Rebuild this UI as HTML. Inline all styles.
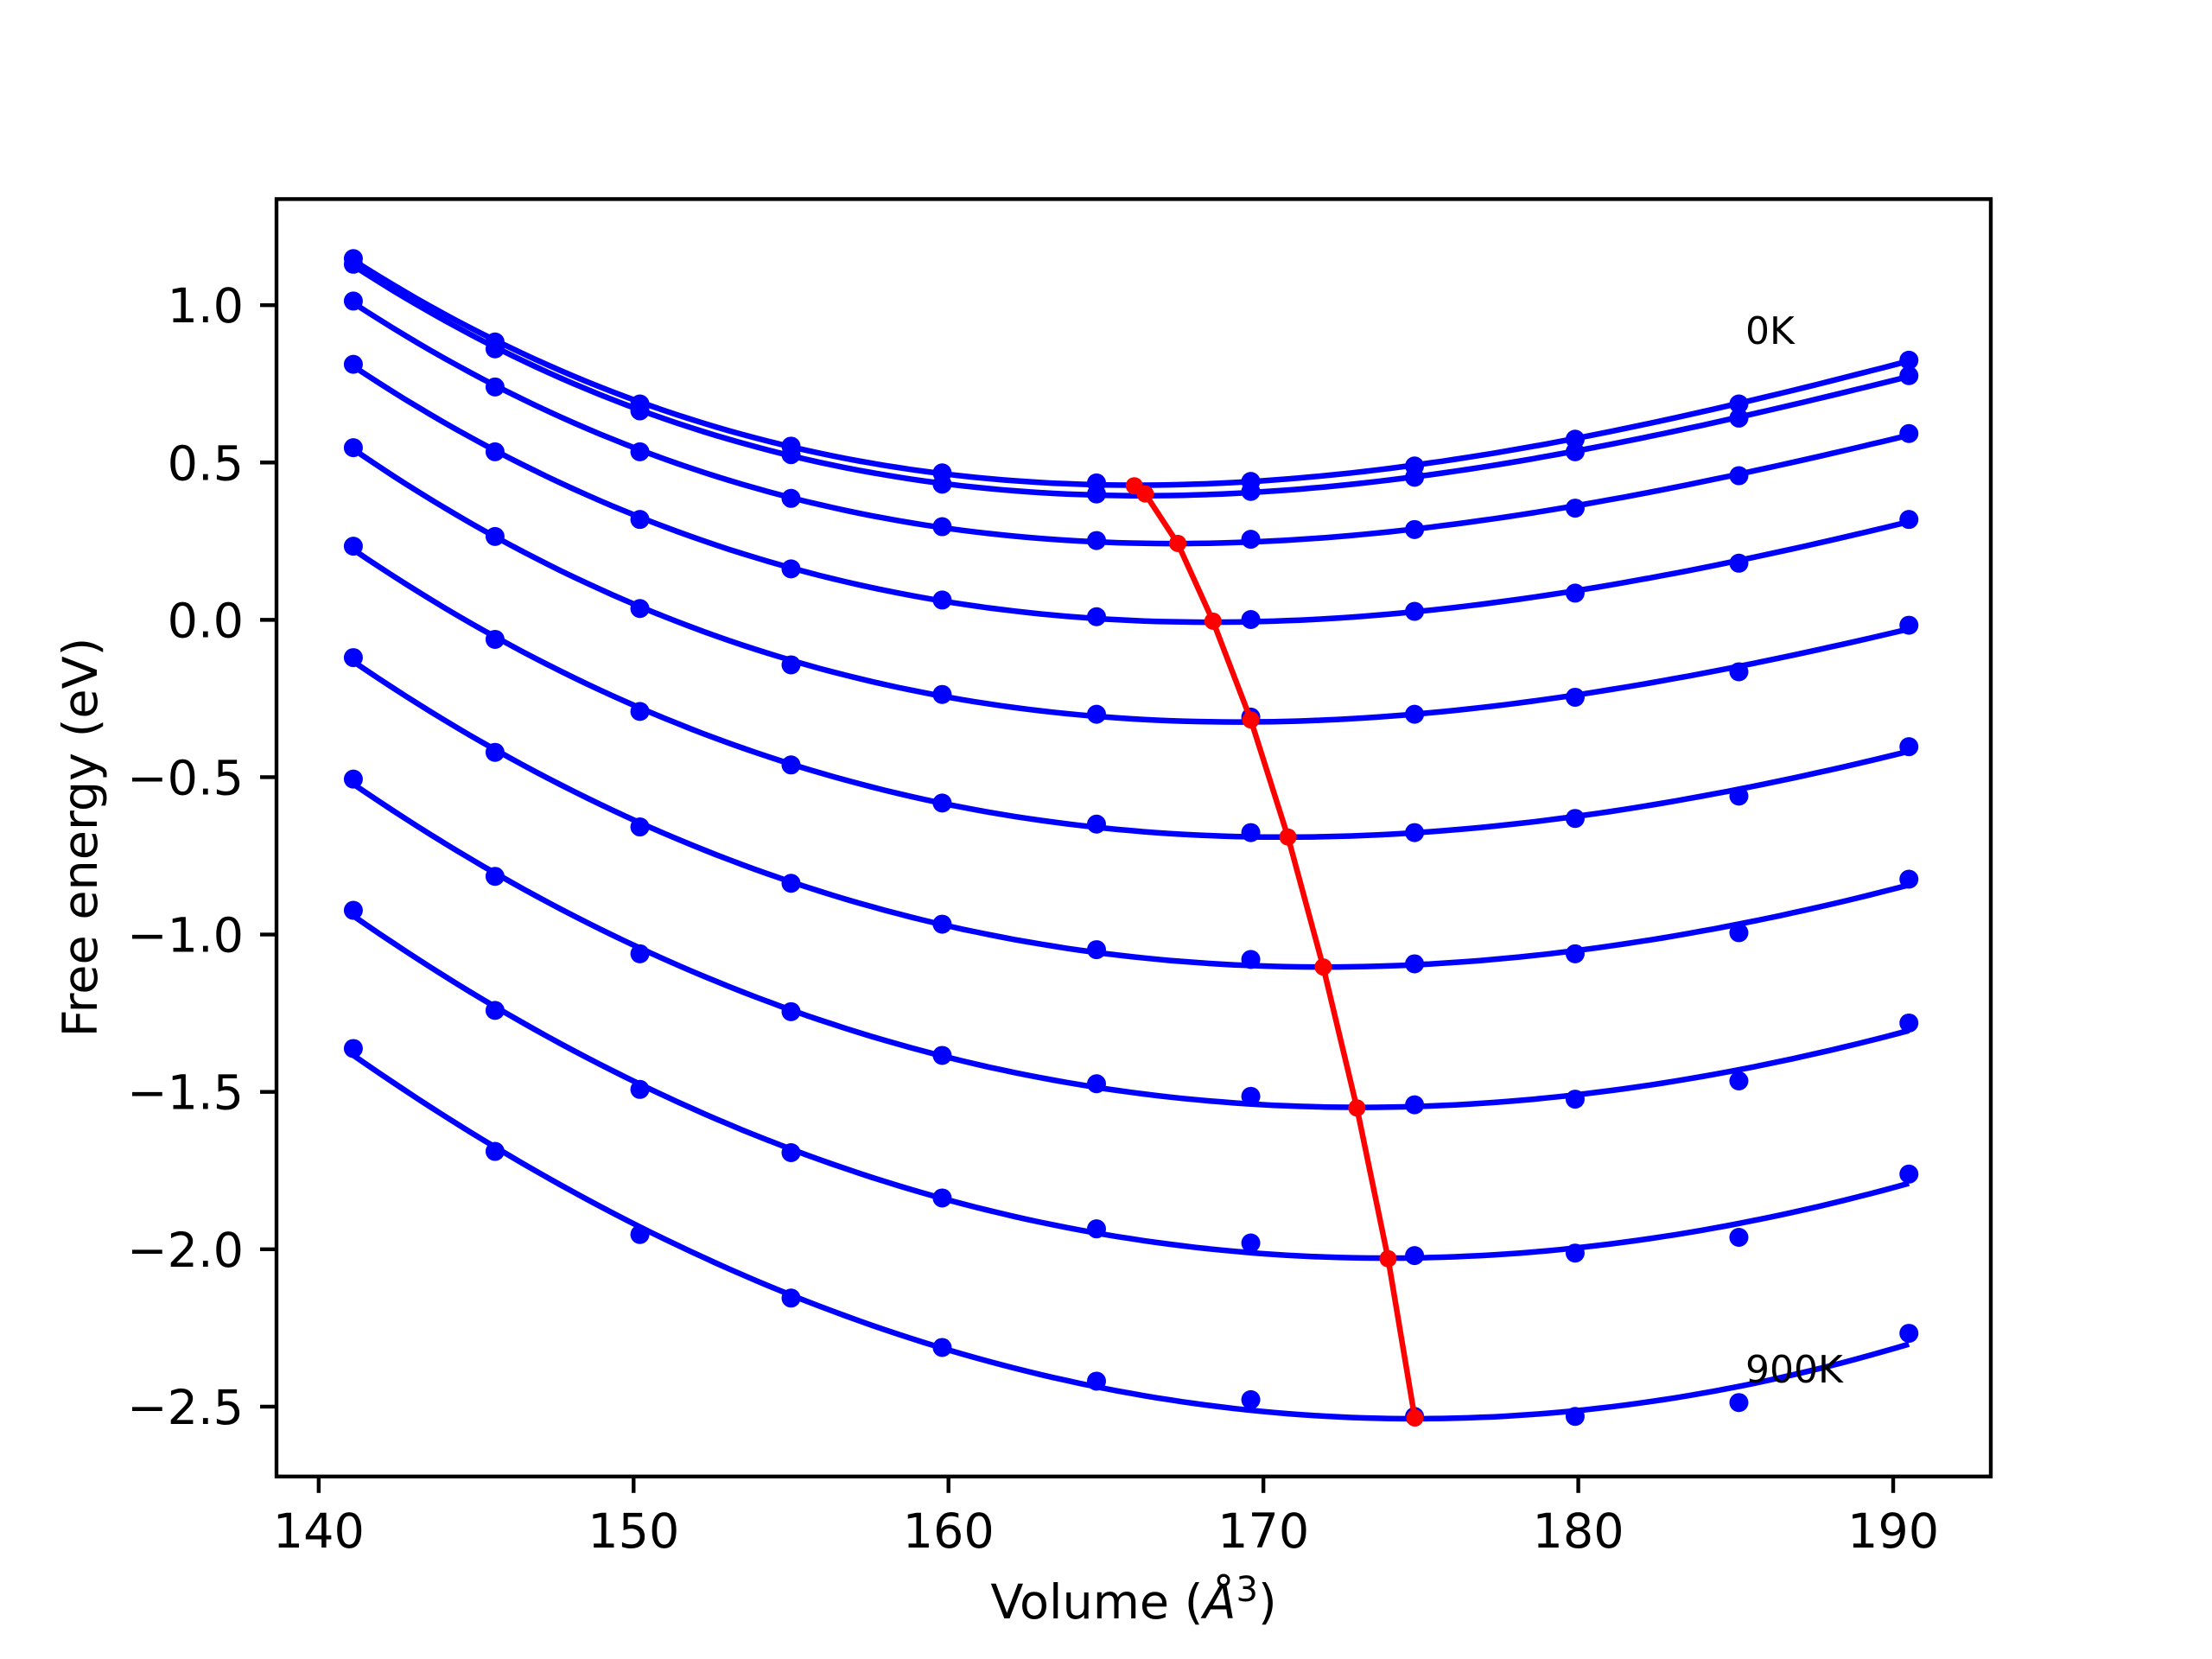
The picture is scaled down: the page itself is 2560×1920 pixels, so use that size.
<!DOCTYPE html>
<html><head><meta charset="utf-8"><style>
html,body{margin:0;padding:0;background:#fff}
svg{display:block}
text{font-family:"DejaVu Sans","Liberation Sans",sans-serif;fill:#000}
</style></head><body>
<svg id="chart" width="2560" height="1920" viewBox="0 0 2560 1920" xmlns="http://www.w3.org/2000/svg">
<rect x="0" y="0" width="2560" height="1920" fill="#fff"/>
<g id="plot"></g>
<g id="axes"></g>
</svg>
<script>
const volumes = [141.1, 145.6, 150.2, 155.0, 159.8, 164.7, 169.6, 174.8, 179.9, 185.1, 190.5];
const temperatures = ["0K","100K","200K","300K","400K","500K","600K","700K","800K","900K"];
const e0K   = [1.148,0.883,0.686,0.552,0.467,0.435,0.440,0.489,0.574,0.686,0.825];
const e100K = [1.13,0.861,0.664,0.525,0.431,0.40,0.408,0.453,0.534,0.641,0.776];
const e200K = [1.013,0.74,0.534,0.386,0.296,0.252,0.256,0.287,0.355,0.458,0.592];
const e300K = [0.812,0.534,0.319,0.162,0.063,0.01,0.001,0.027,0.085,0.18,0.319];
const e400K = [0.547,0.265,0.036,-0.143,-0.237,-0.3,-0.309,-0.3,-0.246,-0.165,-0.017];
const e500K = [0.234,-0.062,-0.291,-0.461,-0.582,-0.649,-0.676,-0.676,-0.631,-0.56,-0.403];
const e600K = [-0.12,-0.421,-0.658,-0.837,-0.967,-1.048,-1.079,-1.093,-1.061,-0.994,-0.824];
const e700K = [-0.506,-0.815,-1.061,-1.245,-1.384,-1.474,-1.514,-1.541,-1.523,-1.465,-1.281];
const e800K = [-0.923,-1.241,-1.492,-1.693,-1.837,-1.935,-1.98,-2.02,-2.012,-1.962,-1.761];
const e900K = [-1.362,-1.689,-1.953,-2.155,-2.312,-2.419,-2.478,-2.531,-2.531,-2.487,-2.267];
const minVolumes = [165.9,166.25,167.28,168.4,169.6,170.78,171.9,172.97,173.96,174.81];
const minEnergies = [0.426,0.4,0.243,-0.004,-0.318,-0.69,-1.103,-1.551,-2.03,-2.536];
const xTicks = [140,150,160,170,180,190];
const yTicks = [1.0,0.5,0.0,-0.5,-1.0,-1.5,-2.0,-2.5];
const yTickLabels = ["1.0","0.5","0.0","\u22120.5","\u22121.0","\u22121.5","\u22122.0","\u22122.5"];

const series = [e0K,e100K,e200K,e300K,e400K,e500K,e600K,e700K,e800K,e900K];
const AX = {l:320, r:2304, t:230.4, b:1708.8};
const xMin=138.66, xMax=193.1, yMin=-2.722, yMax=1.337;
function sx(v){return AX.l + (v-xMin)/(xMax-xMin)*(AX.r-AX.l);}
function sy(v){return AX.b - (v-yMin)/(yMax-yMin)*(AX.b-AX.t);}
const NS="http://www.w3.org/2000/svg";
const plot=document.getElementById('plot'), axes=document.getElementById('axes');
function mk(tag,attrs,parent){const e=document.createElementNS(NS,tag);for(const k in attrs)e.setAttribute(k,attrs[k]);parent.appendChild(e);return e;}

// cubic least-squares fit
function fit(xs,ys){
  const n=4, c=165; const A=[];for(let i=0;i<n;i++){A.push(new Array(n+1).fill(0));}
  for(let k=0;k<xs.length;k++){const x=(xs[k]-c)/10;const p=[1,x,x*x,x*x*x];
    for(let i=0;i<n;i++){for(let j=0;j<n;j++)A[i][j]+=p[i]*p[j];A[i][n]+=p[i]*ys[k];}}
  for(let i=0;i<n;i++){let m=i;for(let r=i+1;r<n;r++)if(Math.abs(A[r][i])>Math.abs(A[m][i]))m=r;[A[i],A[m]]=[A[m],A[i]];
    for(let r=0;r<n;r++){if(r===i)continue;const f=A[r][i]/A[i][i];for(let j=i;j<=n;j++)A[r][j]-=f*A[i][j];}}
  const co=A.map((row,i)=>row[n]/row[i]);
  return v=>{const x=(v-c)/10;return co[0]+co[1]*x+co[2]*x*x+co[3]*x*x*x;};
}

const clip=mk('clipPath',{id:'clipAx'},plot);
mk('rect',{x:AX.l,y:AX.t,width:AX.r-AX.l,height:AX.b-AX.t},clip);
const g=mk('g',{'clip-path':'url(#clipAx)'},plot);

series.forEach((ys,si)=>{
  const f=fit(volumes,ys);
  const v0=volumes[0], v1=volumes[volumes.length-1];
  let d='';
  for(let i=0;i<=120;i++){const v=v0+(v1-v0)*i/120;d+=(i?'L':'M')+sx(v).toFixed(1)+','+sy(f(v)).toFixed(1);}
  const p=mk('path',{d:d,fill:'none',stroke:'#0000ff','stroke-width':6.5,'stroke-linejoin':'round'},g);
  
  
  ys.forEach((y,i)=>{
    const c=mk('circle',{cx:sx(volumes[i]),cy:sy(y),r:11,fill:'#0000ff'},g);
    
    
  });
});
let dr='';
minVolumes.forEach((v,i)=>{dr+=(i?'L':'M')+sx(v).toFixed(1)+','+sy(minEnergies[i]).toFixed(1);});
const rl=mk('path',{d:dr,fill:'none',stroke:'#ff0000','stroke-width':6.5,'stroke-linejoin':'round'},g);


minVolumes.forEach((v,i)=>{
  const c=mk('circle',{cx:sx(v),cy:sy(minEnergies[i]),r:10,fill:'#ff0000'},g);
  
  
});

// labels 0K / 900K
const t0=mk('text',{x:2020,y:398,'font-size':44},plot);t0.textContent='0K';


const t9=mk('text',{x:2020,y:1600,'font-size':44},plot);t9.textContent='900K';



// frame
const fr=mk('rect',{x:AX.l,y:AX.t,width:AX.r-AX.l,height:AX.b-AX.t,fill:'none',stroke:'#000','stroke-width':4.4},axes);


xTicks.forEach(v=>{
  const x=sx(v);
  const l=mk('line',{x1:x,x2:x,y1:AX.b,y2:AX.b+19,stroke:'#000','stroke-width':4.4},axes);
  
  
  const t=mk('text',{x:x,y:1791,'font-size':55.6,'text-anchor':'middle'},axes);t.textContent=String(v);
  
  
});
yTicks.forEach((v,i)=>{
  const y=sy(v);
  const l=mk('line',{x1:AX.l-19,x2:AX.l,y1:y,y2:y,stroke:'#000','stroke-width':4.4},axes);
  
  
  const t=mk('text',{x:282,y:y+20,'font-size':55.6,'text-anchor':'end'},axes);t.textContent=yTickLabels[i];
  
  
});
const xl=mk('text',{x:1312,y:1873,'font-size':55.6,'text-anchor':'middle'},axes);
xl.innerHTML='Volume (<tspan font-style="italic">Å</tspan><tspan dy="-20" font-size="40">3</tspan><tspan dy="20">)</tspan>';


const yl=mk('text',{x:0,y:0,'font-size':55.6,'text-anchor':'middle',transform:'translate(112,969) rotate(-90)'},axes);
yl.textContent='Free energy (eV)';


</script>
</body></html>
